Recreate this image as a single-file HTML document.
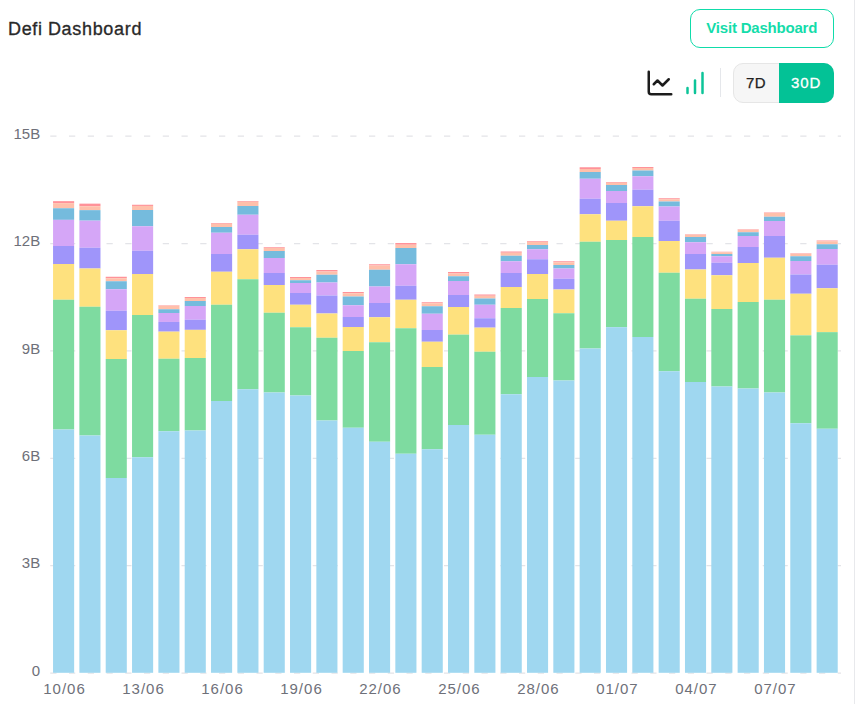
<!DOCTYPE html>
<html><head><meta charset="utf-8"><title>Defi Dashboard</title>
<style>
html,body{margin:0;padding:0;background:#fff;}
body{width:856px;height:704px;position:relative;overflow:hidden;font-family:"Liberation Sans",sans-serif;}
.rb{position:absolute;left:854.2px;top:0;width:1px;height:704px;background:#e8e9ec;}
.title{position:absolute;left:8px;top:17.75px;font-size:18px;line-height:22px;color:#292929;-webkit-text-stroke:0.32px #292929;letter-spacing:0.68px;word-spacing:-0.5px;white-space:nowrap;}
.btn{position:absolute;left:689.5px;top:8.75px;width:144.5px;height:39px;box-sizing:border-box;border:1.25px solid #0fdcaa;border-radius:10px;color:#14dcaa;font-weight:bold;font-size:15px;line-height:36.5px;text-align:center;white-space:nowrap;letter-spacing:-0.2px;}
.tog{position:absolute;left:733px;top:63px;width:101px;height:40px;box-sizing:border-box;border:1px solid #e6e6e6;border-radius:10px;background:#f6f6f6;}
.d7{position:absolute;left:0;top:0;width:44px;letter-spacing:0.5px;height:38px;line-height:38px;text-align:center;font-size:15px;color:#222;-webkit-text-stroke:0.25px #222;}
.d30{position:absolute;left:44.8px;top:-1px;width:55.2px;height:40px;border-radius:0 10px 10px 0;line-height:40px;text-align:center;font-size:15px;letter-spacing:1px;text-indent:-0.5px;color:#fff;background:#03c296;-webkit-text-stroke:0.3px #fff;}
.div{position:absolute;left:720px;top:68px;width:1.25px;height:29px;background:#e5e7eb;}
svg text.ax{font-family:"Liberation Sans",sans-serif;font-size:15px;fill:#6e7079;}
svg text.xl{letter-spacing:1px;}
.ic{position:absolute;top:68px;width:30px;height:30px;}
</style></head><body>
<div class="rb"></div>
<div class="title">Defi Dashboard</div>
<div class="btn">Visit Dashboard</div>
<svg class="ic" style="left:645px" viewBox="0 0 24 24" fill="none" stroke="#1c1c1c" stroke-width="2" stroke-linecap="round" stroke-linejoin="round"><path d="M3 3v16a2 2 0 0 0 2 2h16"/><path d="m19 9-5 5-4-4-3 3"/></svg>
<svg class="ic" style="left:680px" viewBox="0 0 24 24" fill="none" stroke="#0cc499" stroke-width="2" stroke-linecap="round" stroke-linejoin="round"><path d="M12 20V10"/><path d="M18 20V4"/><path d="M6 20v-4"/></svg>
<div class="div"></div>
<div class="tog"><div class="d7">7D</div><div class="d30">30D</div></div>
<svg width="856" height="704" viewBox="0 0 856 704" style="position:absolute;left:0;top:0">
<line x1="50.25" x2="841" y1="136.15" y2="136.15" stroke="#e3e4e8" stroke-width="1.25" stroke-dasharray="6.25 12.5"/>
<line x1="50.25" x2="841" y1="243.53" y2="243.53" stroke="#e3e4e8" stroke-width="1.25" stroke-dasharray="6.25 12.5"/>
<line x1="50.25" x2="841" y1="350.91" y2="350.91" stroke="#e3e4e8" stroke-width="1.25" stroke-dasharray="6.25 12.5"/>
<line x1="50.25" x2="841" y1="458.29" y2="458.29" stroke="#e3e4e8" stroke-width="1.25" stroke-dasharray="6.25 12.5"/>
<line x1="50.25" x2="841" y1="565.67" y2="565.67" stroke="#e3e4e8" stroke-width="1.25" stroke-dasharray="6.25 12.5"/>
<line x1="50.25" x2="841" y1="673.05" y2="673.05" stroke="#e3e4e8" stroke-width="1.25" stroke-dasharray="6.25 12.5"/>
<rect x="53.05" y="201.15" width="21.1" height="2.00" fill="#ff9299"/>
<rect x="53.05" y="203.15" width="21.1" height="5.10" fill="#ffc0ab"/>
<rect x="53.05" y="208.25" width="21.1" height="11.60" fill="#75bbdd"/>
<rect x="53.05" y="219.85" width="21.1" height="26.15" fill="#d5a6f7"/>
<rect x="53.05" y="246.00" width="21.1" height="18.00" fill="#9f95fa"/>
<rect x="53.05" y="264.00" width="21.1" height="35.75" fill="#fee17e"/>
<rect x="53.05" y="299.75" width="21.1" height="129.75" fill="#7edba0"/>
<rect x="53.05" y="429.50" width="21.1" height="243.30" fill="#9fd7f0"/>
<rect x="79.38" y="203.65" width="21.1" height="2.60" fill="#ff9299"/>
<rect x="79.38" y="206.25" width="21.1" height="3.90" fill="#ffc0ab"/>
<rect x="79.38" y="210.15" width="21.1" height="10.50" fill="#75bbdd"/>
<rect x="79.38" y="220.65" width="21.1" height="27.10" fill="#d5a6f7"/>
<rect x="79.38" y="247.75" width="21.1" height="20.75" fill="#9f95fa"/>
<rect x="79.38" y="268.50" width="21.1" height="38.25" fill="#fee17e"/>
<rect x="79.38" y="306.75" width="21.1" height="128.75" fill="#7edba0"/>
<rect x="79.38" y="435.50" width="21.1" height="237.30" fill="#9fd7f0"/>
<rect x="105.71" y="276.75" width="21.1" height="1.50" fill="#ff9299"/>
<rect x="105.71" y="278.25" width="21.1" height="3.00" fill="#ffc0ab"/>
<rect x="105.71" y="281.25" width="21.1" height="8.00" fill="#75bbdd"/>
<rect x="105.71" y="289.25" width="21.1" height="21.50" fill="#d5a6f7"/>
<rect x="105.71" y="310.75" width="21.1" height="19.50" fill="#9f95fa"/>
<rect x="105.71" y="330.25" width="21.1" height="28.75" fill="#fee17e"/>
<rect x="105.71" y="359.00" width="21.1" height="119.00" fill="#7edba0"/>
<rect x="105.71" y="478.00" width="21.1" height="194.80" fill="#9fd7f0"/>
<rect x="132.04" y="204.75" width="21.1" height="1.20" fill="#ff9299"/>
<rect x="132.04" y="205.95" width="21.1" height="4.05" fill="#ffc0ab"/>
<rect x="132.04" y="210.00" width="21.1" height="16.25" fill="#75bbdd"/>
<rect x="132.04" y="226.25" width="21.1" height="24.50" fill="#d5a6f7"/>
<rect x="132.04" y="250.75" width="21.1" height="23.25" fill="#9f95fa"/>
<rect x="132.04" y="274.00" width="21.1" height="41.00" fill="#fee17e"/>
<rect x="132.04" y="315.00" width="21.1" height="142.25" fill="#7edba0"/>
<rect x="132.04" y="457.25" width="21.1" height="215.55" fill="#9fd7f0"/>
<rect x="158.37" y="305.25" width="21.1" height="0.50" fill="#ff9299"/>
<rect x="158.37" y="305.75" width="21.1" height="3.50" fill="#ffc0ab"/>
<rect x="158.37" y="309.25" width="21.1" height="3.75" fill="#75bbdd"/>
<rect x="158.37" y="313.00" width="21.1" height="8.95" fill="#d5a6f7"/>
<rect x="158.37" y="321.95" width="21.1" height="9.70" fill="#9f95fa"/>
<rect x="158.37" y="331.65" width="21.1" height="27.10" fill="#fee17e"/>
<rect x="158.37" y="358.75" width="21.1" height="72.50" fill="#7edba0"/>
<rect x="158.37" y="431.25" width="21.1" height="241.55" fill="#9fd7f0"/>
<rect x="184.70" y="297.00" width="21.1" height="1.00" fill="#ff9299"/>
<rect x="184.70" y="298.00" width="21.1" height="3.00" fill="#ffc0ab"/>
<rect x="184.70" y="301.00" width="21.1" height="5.00" fill="#75bbdd"/>
<rect x="184.70" y="306.00" width="21.1" height="13.75" fill="#d5a6f7"/>
<rect x="184.70" y="319.75" width="21.1" height="10.10" fill="#9f95fa"/>
<rect x="184.70" y="329.85" width="21.1" height="28.15" fill="#fee17e"/>
<rect x="184.70" y="358.00" width="21.1" height="72.50" fill="#7edba0"/>
<rect x="184.70" y="430.50" width="21.1" height="242.30" fill="#9fd7f0"/>
<rect x="211.03" y="223.00" width="21.1" height="0.75" fill="#ff9299"/>
<rect x="211.03" y="223.75" width="21.1" height="3.25" fill="#ffc0ab"/>
<rect x="211.03" y="227.00" width="21.1" height="5.75" fill="#75bbdd"/>
<rect x="211.03" y="232.75" width="21.1" height="21.25" fill="#d5a6f7"/>
<rect x="211.03" y="254.00" width="21.1" height="17.75" fill="#9f95fa"/>
<rect x="211.03" y="271.75" width="21.1" height="33.00" fill="#fee17e"/>
<rect x="211.03" y="304.75" width="21.1" height="96.25" fill="#7edba0"/>
<rect x="211.03" y="401.00" width="21.1" height="271.80" fill="#9fd7f0"/>
<rect x="237.36" y="201.00" width="21.1" height="0.75" fill="#ff9299"/>
<rect x="237.36" y="201.75" width="21.1" height="4.25" fill="#ffc0ab"/>
<rect x="237.36" y="206.00" width="21.1" height="8.75" fill="#75bbdd"/>
<rect x="237.36" y="214.75" width="21.1" height="20.00" fill="#d5a6f7"/>
<rect x="237.36" y="234.75" width="21.1" height="14.50" fill="#9f95fa"/>
<rect x="237.36" y="249.25" width="21.1" height="30.00" fill="#fee17e"/>
<rect x="237.36" y="279.25" width="21.1" height="110.00" fill="#7edba0"/>
<rect x="237.36" y="389.25" width="21.1" height="283.55" fill="#9fd7f0"/>
<rect x="263.69" y="247.25" width="21.1" height="0.75" fill="#ff9299"/>
<rect x="263.69" y="248.00" width="21.1" height="3.00" fill="#ffc0ab"/>
<rect x="263.69" y="251.00" width="21.1" height="7.00" fill="#75bbdd"/>
<rect x="263.69" y="258.00" width="21.1" height="15.00" fill="#d5a6f7"/>
<rect x="263.69" y="273.00" width="21.1" height="12.00" fill="#9f95fa"/>
<rect x="263.69" y="285.00" width="21.1" height="27.75" fill="#fee17e"/>
<rect x="263.69" y="312.75" width="21.1" height="79.75" fill="#7edba0"/>
<rect x="263.69" y="392.50" width="21.1" height="280.30" fill="#9fd7f0"/>
<rect x="290.02" y="277.00" width="21.1" height="1.00" fill="#ff9299"/>
<rect x="290.02" y="278.00" width="21.1" height="2.25" fill="#ffc0ab"/>
<rect x="290.02" y="280.25" width="21.1" height="2.75" fill="#75bbdd"/>
<rect x="290.02" y="283.00" width="21.1" height="10.00" fill="#d5a6f7"/>
<rect x="290.02" y="293.00" width="21.1" height="11.75" fill="#9f95fa"/>
<rect x="290.02" y="304.75" width="21.1" height="22.50" fill="#fee17e"/>
<rect x="290.02" y="327.25" width="21.1" height="68.25" fill="#7edba0"/>
<rect x="290.02" y="395.50" width="21.1" height="277.30" fill="#9fd7f0"/>
<rect x="316.35" y="270.00" width="21.1" height="1.50" fill="#ff9299"/>
<rect x="316.35" y="271.50" width="21.1" height="3.25" fill="#ffc0ab"/>
<rect x="316.35" y="274.75" width="21.1" height="7.75" fill="#75bbdd"/>
<rect x="316.35" y="282.50" width="21.1" height="13.00" fill="#d5a6f7"/>
<rect x="316.35" y="295.50" width="21.1" height="18.00" fill="#9f95fa"/>
<rect x="316.35" y="313.50" width="21.1" height="24.25" fill="#fee17e"/>
<rect x="316.35" y="337.75" width="21.1" height="82.75" fill="#7edba0"/>
<rect x="316.35" y="420.50" width="21.1" height="252.30" fill="#9fd7f0"/>
<rect x="342.68" y="292.00" width="21.1" height="1.25" fill="#ff9299"/>
<rect x="342.68" y="293.25" width="21.1" height="3.25" fill="#ffc0ab"/>
<rect x="342.68" y="296.50" width="21.1" height="8.75" fill="#75bbdd"/>
<rect x="342.68" y="305.25" width="21.1" height="11.75" fill="#d5a6f7"/>
<rect x="342.68" y="317.00" width="21.1" height="10.00" fill="#9f95fa"/>
<rect x="342.68" y="327.00" width="21.1" height="24.00" fill="#fee17e"/>
<rect x="342.68" y="351.00" width="21.1" height="76.75" fill="#7edba0"/>
<rect x="342.68" y="427.75" width="21.1" height="245.05" fill="#9fd7f0"/>
<rect x="369.01" y="264.25" width="21.1" height="1.25" fill="#ff9299"/>
<rect x="369.01" y="265.50" width="21.1" height="4.25" fill="#ffc0ab"/>
<rect x="369.01" y="269.75" width="21.1" height="16.75" fill="#75bbdd"/>
<rect x="369.01" y="286.50" width="21.1" height="16.50" fill="#d5a6f7"/>
<rect x="369.01" y="303.00" width="21.1" height="14.25" fill="#9f95fa"/>
<rect x="369.01" y="317.25" width="21.1" height="25.00" fill="#fee17e"/>
<rect x="369.01" y="342.25" width="21.1" height="99.50" fill="#7edba0"/>
<rect x="369.01" y="441.75" width="21.1" height="231.05" fill="#9fd7f0"/>
<rect x="395.34" y="243.00" width="21.1" height="1.75" fill="#ff9299"/>
<rect x="395.34" y="244.75" width="21.1" height="3.25" fill="#ffc0ab"/>
<rect x="395.34" y="248.00" width="21.1" height="16.25" fill="#75bbdd"/>
<rect x="395.34" y="264.25" width="21.1" height="21.50" fill="#d5a6f7"/>
<rect x="395.34" y="285.75" width="21.1" height="14.00" fill="#9f95fa"/>
<rect x="395.34" y="299.75" width="21.1" height="28.50" fill="#fee17e"/>
<rect x="395.34" y="328.25" width="21.1" height="125.50" fill="#7edba0"/>
<rect x="395.34" y="453.75" width="21.1" height="219.05" fill="#9fd7f0"/>
<rect x="421.67" y="302.25" width="21.1" height="1.00" fill="#ff9299"/>
<rect x="421.67" y="303.25" width="21.1" height="3.00" fill="#ffc0ab"/>
<rect x="421.67" y="306.25" width="21.1" height="7.50" fill="#75bbdd"/>
<rect x="421.67" y="313.75" width="21.1" height="16.25" fill="#d5a6f7"/>
<rect x="421.67" y="330.00" width="21.1" height="11.75" fill="#9f95fa"/>
<rect x="421.67" y="341.75" width="21.1" height="25.25" fill="#fee17e"/>
<rect x="421.67" y="367.00" width="21.1" height="82.25" fill="#7edba0"/>
<rect x="421.67" y="449.25" width="21.1" height="223.55" fill="#9fd7f0"/>
<rect x="448.00" y="272.00" width="21.1" height="1.50" fill="#ff9299"/>
<rect x="448.00" y="273.50" width="21.1" height="2.75" fill="#ffc0ab"/>
<rect x="448.00" y="276.25" width="21.1" height="4.75" fill="#75bbdd"/>
<rect x="448.00" y="281.00" width="21.1" height="14.00" fill="#d5a6f7"/>
<rect x="448.00" y="295.00" width="21.1" height="12.00" fill="#9f95fa"/>
<rect x="448.00" y="307.00" width="21.1" height="27.65" fill="#fee17e"/>
<rect x="448.00" y="334.65" width="21.1" height="90.35" fill="#7edba0"/>
<rect x="448.00" y="425.00" width="21.1" height="247.80" fill="#9fd7f0"/>
<rect x="474.33" y="294.50" width="21.1" height="1.25" fill="#ff9299"/>
<rect x="474.33" y="295.75" width="21.1" height="2.75" fill="#ffc0ab"/>
<rect x="474.33" y="298.50" width="21.1" height="6.25" fill="#75bbdd"/>
<rect x="474.33" y="304.75" width="21.1" height="13.50" fill="#d5a6f7"/>
<rect x="474.33" y="318.25" width="21.1" height="9.40" fill="#9f95fa"/>
<rect x="474.33" y="327.65" width="21.1" height="24.10" fill="#fee17e"/>
<rect x="474.33" y="351.75" width="21.1" height="83.00" fill="#7edba0"/>
<rect x="474.33" y="434.75" width="21.1" height="238.05" fill="#9fd7f0"/>
<rect x="500.66" y="251.50" width="21.1" height="1.25" fill="#ff9299"/>
<rect x="500.66" y="252.75" width="21.1" height="3.00" fill="#ffc0ab"/>
<rect x="500.66" y="255.75" width="21.1" height="5.50" fill="#75bbdd"/>
<rect x="500.66" y="261.25" width="21.1" height="11.75" fill="#d5a6f7"/>
<rect x="500.66" y="273.00" width="21.1" height="14.00" fill="#9f95fa"/>
<rect x="500.66" y="287.00" width="21.1" height="21.00" fill="#fee17e"/>
<rect x="500.66" y="308.00" width="21.1" height="86.25" fill="#7edba0"/>
<rect x="500.66" y="394.25" width="21.1" height="278.55" fill="#9fd7f0"/>
<rect x="526.99" y="241.25" width="21.1" height="0.75" fill="#ff9299"/>
<rect x="526.99" y="242.00" width="21.1" height="3.00" fill="#ffc0ab"/>
<rect x="526.99" y="245.00" width="21.1" height="4.25" fill="#75bbdd"/>
<rect x="526.99" y="249.25" width="21.1" height="10.00" fill="#d5a6f7"/>
<rect x="526.99" y="259.25" width="21.1" height="14.75" fill="#9f95fa"/>
<rect x="526.99" y="274.00" width="21.1" height="25.00" fill="#fee17e"/>
<rect x="526.99" y="299.00" width="21.1" height="78.00" fill="#7edba0"/>
<rect x="526.99" y="377.00" width="21.1" height="295.80" fill="#9fd7f0"/>
<rect x="553.32" y="261.25" width="21.1" height="1.00" fill="#ff9299"/>
<rect x="553.32" y="262.25" width="21.1" height="2.75" fill="#ffc0ab"/>
<rect x="553.32" y="265.00" width="21.1" height="3.50" fill="#75bbdd"/>
<rect x="553.32" y="268.50" width="21.1" height="10.25" fill="#d5a6f7"/>
<rect x="553.32" y="278.75" width="21.1" height="10.75" fill="#9f95fa"/>
<rect x="553.32" y="289.50" width="21.1" height="23.75" fill="#fee17e"/>
<rect x="553.32" y="313.25" width="21.1" height="67.25" fill="#7edba0"/>
<rect x="553.32" y="380.50" width="21.1" height="292.30" fill="#9fd7f0"/>
<rect x="579.65" y="167.25" width="21.1" height="1.75" fill="#ff9299"/>
<rect x="579.65" y="169.00" width="21.1" height="3.00" fill="#ffc0ab"/>
<rect x="579.65" y="172.00" width="21.1" height="6.75" fill="#75bbdd"/>
<rect x="579.65" y="178.75" width="21.1" height="20.00" fill="#d5a6f7"/>
<rect x="579.65" y="198.75" width="21.1" height="15.50" fill="#9f95fa"/>
<rect x="579.65" y="214.25" width="21.1" height="27.50" fill="#fee17e"/>
<rect x="579.65" y="241.75" width="21.1" height="106.75" fill="#7edba0"/>
<rect x="579.65" y="348.50" width="21.1" height="324.30" fill="#9fd7f0"/>
<rect x="605.98" y="182.00" width="21.1" height="0.75" fill="#ff9299"/>
<rect x="605.98" y="182.75" width="21.1" height="2.25" fill="#ffc0ab"/>
<rect x="605.98" y="185.00" width="21.1" height="6.00" fill="#75bbdd"/>
<rect x="605.98" y="191.00" width="21.1" height="12.00" fill="#d5a6f7"/>
<rect x="605.98" y="203.00" width="21.1" height="17.75" fill="#9f95fa"/>
<rect x="605.98" y="220.75" width="21.1" height="19.25" fill="#fee17e"/>
<rect x="605.98" y="240.00" width="21.1" height="87.15" fill="#7edba0"/>
<rect x="605.98" y="327.15" width="21.1" height="345.65" fill="#9fd7f0"/>
<rect x="632.31" y="167.00" width="21.1" height="1.00" fill="#ff9299"/>
<rect x="632.31" y="168.00" width="21.1" height="2.50" fill="#ffc0ab"/>
<rect x="632.31" y="170.50" width="21.1" height="5.75" fill="#75bbdd"/>
<rect x="632.31" y="176.25" width="21.1" height="13.50" fill="#d5a6f7"/>
<rect x="632.31" y="189.75" width="21.1" height="16.50" fill="#9f95fa"/>
<rect x="632.31" y="206.25" width="21.1" height="30.75" fill="#fee17e"/>
<rect x="632.31" y="237.00" width="21.1" height="100.00" fill="#7edba0"/>
<rect x="632.31" y="337.00" width="21.1" height="335.80" fill="#9fd7f0"/>
<rect x="658.64" y="198.25" width="21.1" height="1.00" fill="#ff9299"/>
<rect x="658.64" y="199.25" width="21.1" height="2.25" fill="#ffc0ab"/>
<rect x="658.64" y="201.50" width="21.1" height="5.00" fill="#75bbdd"/>
<rect x="658.64" y="206.50" width="21.1" height="14.25" fill="#d5a6f7"/>
<rect x="658.64" y="220.75" width="21.1" height="20.25" fill="#9f95fa"/>
<rect x="658.64" y="241.00" width="21.1" height="31.75" fill="#fee17e"/>
<rect x="658.64" y="272.75" width="21.1" height="98.50" fill="#7edba0"/>
<rect x="658.64" y="371.25" width="21.1" height="301.55" fill="#9fd7f0"/>
<rect x="684.97" y="234.25" width="21.1" height="0.50" fill="#ff9299"/>
<rect x="684.97" y="234.75" width="21.1" height="2.25" fill="#ffc0ab"/>
<rect x="684.97" y="237.00" width="21.1" height="5.25" fill="#75bbdd"/>
<rect x="684.97" y="242.25" width="21.1" height="11.75" fill="#d5a6f7"/>
<rect x="684.97" y="254.00" width="21.1" height="15.50" fill="#9f95fa"/>
<rect x="684.97" y="269.50" width="21.1" height="29.25" fill="#fee17e"/>
<rect x="684.97" y="298.75" width="21.1" height="83.25" fill="#7edba0"/>
<rect x="684.97" y="382.00" width="21.1" height="290.80" fill="#9fd7f0"/>
<rect x="711.30" y="251.75" width="21.1" height="0.50" fill="#ff9299"/>
<rect x="711.30" y="252.25" width="21.1" height="1.75" fill="#ffc0ab"/>
<rect x="711.30" y="254.00" width="21.1" height="2.25" fill="#75bbdd"/>
<rect x="711.30" y="256.25" width="21.1" height="6.50" fill="#d5a6f7"/>
<rect x="711.30" y="262.75" width="21.1" height="12.50" fill="#9f95fa"/>
<rect x="711.30" y="275.25" width="21.1" height="33.75" fill="#fee17e"/>
<rect x="711.30" y="309.00" width="21.1" height="77.50" fill="#7edba0"/>
<rect x="711.30" y="386.50" width="21.1" height="286.30" fill="#9fd7f0"/>
<rect x="737.63" y="229.25" width="21.1" height="0.50" fill="#ff9299"/>
<rect x="737.63" y="229.75" width="21.1" height="2.50" fill="#ffc0ab"/>
<rect x="737.63" y="232.25" width="21.1" height="3.75" fill="#75bbdd"/>
<rect x="737.63" y="236.00" width="21.1" height="11.00" fill="#d5a6f7"/>
<rect x="737.63" y="247.00" width="21.1" height="16.00" fill="#9f95fa"/>
<rect x="737.63" y="263.00" width="21.1" height="39.00" fill="#fee17e"/>
<rect x="737.63" y="302.00" width="21.1" height="86.50" fill="#7edba0"/>
<rect x="737.63" y="388.50" width="21.1" height="284.30" fill="#9fd7f0"/>
<rect x="763.96" y="212.50" width="21.1" height="0.50" fill="#ff9299"/>
<rect x="763.96" y="213.00" width="21.1" height="3.75" fill="#ffc0ab"/>
<rect x="763.96" y="216.75" width="21.1" height="4.25" fill="#75bbdd"/>
<rect x="763.96" y="221.00" width="21.1" height="15.00" fill="#d5a6f7"/>
<rect x="763.96" y="236.00" width="21.1" height="21.75" fill="#9f95fa"/>
<rect x="763.96" y="257.75" width="21.1" height="42.00" fill="#fee17e"/>
<rect x="763.96" y="299.75" width="21.1" height="92.75" fill="#7edba0"/>
<rect x="763.96" y="392.50" width="21.1" height="280.30" fill="#9fd7f0"/>
<rect x="790.29" y="253.25" width="21.1" height="0.50" fill="#ff9299"/>
<rect x="790.29" y="253.75" width="21.1" height="2.50" fill="#ffc0ab"/>
<rect x="790.29" y="256.25" width="21.1" height="4.75" fill="#75bbdd"/>
<rect x="790.29" y="261.00" width="21.1" height="13.50" fill="#d5a6f7"/>
<rect x="790.29" y="274.50" width="21.1" height="19.25" fill="#9f95fa"/>
<rect x="790.29" y="293.75" width="21.1" height="41.60" fill="#fee17e"/>
<rect x="790.29" y="335.35" width="21.1" height="87.90" fill="#7edba0"/>
<rect x="790.29" y="423.25" width="21.1" height="249.55" fill="#9fd7f0"/>
<rect x="816.62" y="240.50" width="21.1" height="0.75" fill="#ff9299"/>
<rect x="816.62" y="241.25" width="21.1" height="3.00" fill="#ffc0ab"/>
<rect x="816.62" y="244.25" width="21.1" height="4.75" fill="#75bbdd"/>
<rect x="816.62" y="249.00" width="21.1" height="15.75" fill="#d5a6f7"/>
<rect x="816.62" y="264.75" width="21.1" height="23.50" fill="#9f95fa"/>
<rect x="816.62" y="288.25" width="21.1" height="43.90" fill="#fee17e"/>
<rect x="816.62" y="332.15" width="21.1" height="96.60" fill="#7edba0"/>
<rect x="816.62" y="428.75" width="21.1" height="244.05" fill="#9fd7f0"/>
<text x="40.2" y="138.85" text-anchor="end" class="ax">15B</text>
<text x="40.2" y="246.23" text-anchor="end" class="ax">12B</text>
<text x="40.2" y="353.61" text-anchor="end" class="ax">9B</text>
<text x="40.2" y="460.99" text-anchor="end" class="ax">6B</text>
<text x="40.2" y="568.37" text-anchor="end" class="ax">3B</text>
<text x="40.2" y="675.75" text-anchor="end" class="ax">0</text>
<text x="64.50" y="693.8" text-anchor="middle" class="ax xl">10/06</text>
<text x="143.49" y="693.8" text-anchor="middle" class="ax xl">13/06</text>
<text x="222.48" y="693.8" text-anchor="middle" class="ax xl">16/06</text>
<text x="301.47" y="693.8" text-anchor="middle" class="ax xl">19/06</text>
<text x="380.46" y="693.8" text-anchor="middle" class="ax xl">22/06</text>
<text x="459.45" y="693.8" text-anchor="middle" class="ax xl">25/06</text>
<text x="538.44" y="693.8" text-anchor="middle" class="ax xl">28/06</text>
<text x="617.43" y="693.8" text-anchor="middle" class="ax xl">01/07</text>
<text x="696.42" y="693.8" text-anchor="middle" class="ax xl">04/07</text>
<text x="775.41" y="693.8" text-anchor="middle" class="ax xl">07/07</text>
</svg>
</body></html>
